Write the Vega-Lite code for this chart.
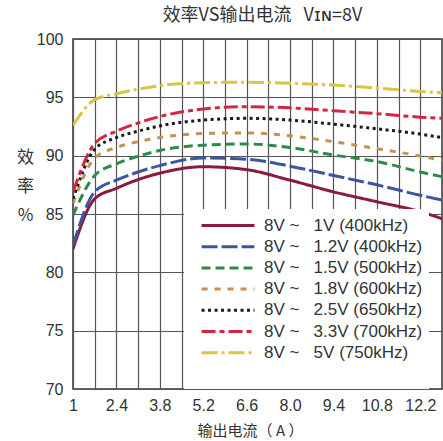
{
  "$schema": "https://vega.github.io/schema/vega-lite/v6.json",
  "width": 369,
  "height": 350,
  "autosize": "none",
  "padding": {"left": 73, "top": 39, "right": 1, "bottom": 52},
  "background": "white",
  "title": {
    "text": "效率VS输出电流\u00a0\u00a0\u00a0Vɪɴ=8V",
    "font": "Noto Sans CJK SC, DejaVu Sans",
    "fontSize": 18,
    "fontWeight": "normal",
    "color": "#333",
    "anchor": "middle",
    "frame": "group",
    "baseline": "middle",
    "offset": -3,
    "dx": 5
  },
  "config": {
    "view": {"stroke": "#333", "strokeWidth": 1.5},
    "axis": {
      "gridColor": "#555",
      "gridWidth": 1.2,
      "gridOpacity": 1,
      "domain": false,
      "ticks": false,
      "labelFont": "Liberation Sans",
      "labelFontSize": 16,
      "labelColor": "#333",
      "titleFont": "Noto Sans CJK SC",
      "titleFontWeight": "normal",
      "titleColor": "#333"
    }
  },
  "data": {
    "values": [
      {"s": "8V ~\u00a0\u00a0\u00a01V (400kHz)", "x": 1, "y": 82.0},
      {"s": "8V ~\u00a0\u00a0\u00a01V (400kHz)", "x": 1.7, "y": 86.3},
      {"s": "8V ~\u00a0\u00a0\u00a01V (400kHz)", "x": 2.4, "y": 87.2},
      {"s": "8V ~\u00a0\u00a0\u00a01V (400kHz)", "x": 3.1, "y": 87.95},
      {"s": "8V ~\u00a0\u00a0\u00a01V (400kHz)", "x": 3.8, "y": 88.5},
      {"s": "8V ~\u00a0\u00a0\u00a01V (400kHz)", "x": 5.2, "y": 89.05},
      {"s": "8V ~\u00a0\u00a0\u00a01V (400kHz)", "x": 6.6, "y": 88.8},
      {"s": "8V ~\u00a0\u00a0\u00a01V (400kHz)", "x": 8.0, "y": 87.9},
      {"s": "8V ~\u00a0\u00a0\u00a01V (400kHz)", "x": 9.4, "y": 86.9},
      {"s": "8V ~\u00a0\u00a0\u00a01V (400kHz)", "x": 10.8, "y": 86.05},
      {"s": "8V ~\u00a0\u00a0\u00a01V (400kHz)", "x": 12.2, "y": 85.2},
      {"s": "8V ~\u00a0\u00a0\u00a01V (400kHz)", "x": 12.9, "y": 84.6},

      {"s": "8V ~\u00a0\u00a0\u00a01.2V (400kHz)", "x": 1, "y": 82.3},
      {"s": "8V ~\u00a0\u00a0\u00a01.2V (400kHz)", "x": 1.7, "y": 86.9},
      {"s": "8V ~\u00a0\u00a0\u00a01.2V (400kHz)", "x": 2.4, "y": 87.9},
      {"s": "8V ~\u00a0\u00a0\u00a01.2V (400kHz)", "x": 3.1, "y": 88.6},
      {"s": "8V ~\u00a0\u00a0\u00a01.2V (400kHz)", "x": 3.8, "y": 89.15},
      {"s": "8V ~\u00a0\u00a0\u00a01.2V (400kHz)", "x": 5.2, "y": 89.8},
      {"s": "8V ~\u00a0\u00a0\u00a01.2V (400kHz)", "x": 6.6, "y": 89.7},
      {"s": "8V ~\u00a0\u00a0\u00a01.2V (400kHz)", "x": 8.0, "y": 89.1},
      {"s": "8V ~\u00a0\u00a0\u00a01.2V (400kHz)", "x": 9.4, "y": 88.3},
      {"s": "8V ~\u00a0\u00a0\u00a01.2V (400kHz)", "x": 10.8, "y": 87.5},
      {"s": "8V ~\u00a0\u00a0\u00a01.2V (400kHz)", "x": 12.2, "y": 86.6},
      {"s": "8V ~\u00a0\u00a0\u00a01.2V (400kHz)", "x": 12.9, "y": 86.2},

      {"s": "8V ~\u00a0\u00a0\u00a01.5V (500kHz)", "x": 1, "y": 84.9},
      {"s": "8V ~\u00a0\u00a0\u00a01.5V (500kHz)", "x": 1.7, "y": 88.3},
      {"s": "8V ~\u00a0\u00a0\u00a01.5V (500kHz)", "x": 2.4, "y": 89.3},
      {"s": "8V ~\u00a0\u00a0\u00a01.5V (500kHz)", "x": 3.1, "y": 89.95},
      {"s": "8V ~\u00a0\u00a0\u00a01.5V (500kHz)", "x": 3.8, "y": 90.45},
      {"s": "8V ~\u00a0\u00a0\u00a01.5V (500kHz)", "x": 5.2, "y": 90.9},
      {"s": "8V ~\u00a0\u00a0\u00a01.5V (500kHz)", "x": 6.6, "y": 91.0},
      {"s": "8V ~\u00a0\u00a0\u00a01.5V (500kHz)", "x": 8.0, "y": 90.7},
      {"s": "8V ~\u00a0\u00a0\u00a01.5V (500kHz)", "x": 9.4, "y": 90.05},
      {"s": "8V ~\u00a0\u00a0\u00a01.5V (500kHz)", "x": 10.8, "y": 89.5},
      {"s": "8V ~\u00a0\u00a0\u00a01.5V (500kHz)", "x": 12.2, "y": 88.6},
      {"s": "8V ~\u00a0\u00a0\u00a01.5V (500kHz)", "x": 12.9, "y": 88.2},

      {"s": "8V ~\u00a0\u00a0\u00a01.8V (600kHz)", "x": 1, "y": 85.9},
      {"s": "8V ~\u00a0\u00a0\u00a01.8V (600kHz)", "x": 1.7, "y": 89.8},
      {"s": "8V ~\u00a0\u00a0\u00a01.8V (600kHz)", "x": 2.4, "y": 90.7},
      {"s": "8V ~\u00a0\u00a0\u00a01.8V (600kHz)", "x": 3.1, "y": 91.2},
      {"s": "8V ~\u00a0\u00a0\u00a01.8V (600kHz)", "x": 3.8, "y": 91.55},
      {"s": "8V ~\u00a0\u00a0\u00a01.8V (600kHz)", "x": 5.2, "y": 91.9},
      {"s": "8V ~\u00a0\u00a0\u00a01.8V (600kHz)", "x": 6.6, "y": 91.95},
      {"s": "8V ~\u00a0\u00a0\u00a01.8V (600kHz)", "x": 8.0, "y": 91.7},
      {"s": "8V ~\u00a0\u00a0\u00a01.8V (600kHz)", "x": 9.4, "y": 91.2},
      {"s": "8V ~\u00a0\u00a0\u00a01.8V (600kHz)", "x": 10.8, "y": 90.6},
      {"s": "8V ~\u00a0\u00a0\u00a01.8V (600kHz)", "x": 12.2, "y": 89.97},
      {"s": "8V ~\u00a0\u00a0\u00a01.8V (600kHz)", "x": 12.9, "y": 89.6},

      {"s": "8V ~\u00a0\u00a0\u00a02.5V (650kHz)", "x": 1, "y": 86.3},
      {"s": "8V ~\u00a0\u00a0\u00a02.5V (650kHz)", "x": 1.7, "y": 90.55},
      {"s": "8V ~\u00a0\u00a0\u00a02.5V (650kHz)", "x": 2.4, "y": 91.55},
      {"s": "8V ~\u00a0\u00a0\u00a02.5V (650kHz)", "x": 3.1, "y": 92.1},
      {"s": "8V ~\u00a0\u00a0\u00a02.5V (650kHz)", "x": 3.8, "y": 92.55},
      {"s": "8V ~\u00a0\u00a0\u00a02.5V (650kHz)", "x": 5.2, "y": 93.05},
      {"s": "8V ~\u00a0\u00a0\u00a02.5V (650kHz)", "x": 6.6, "y": 93.2},
      {"s": "8V ~\u00a0\u00a0\u00a02.5V (650kHz)", "x": 8.0, "y": 93.05},
      {"s": "8V ~\u00a0\u00a0\u00a02.5V (650kHz)", "x": 9.4, "y": 92.7},
      {"s": "8V ~\u00a0\u00a0\u00a02.5V (650kHz)", "x": 10.8, "y": 92.3},
      {"s": "8V ~\u00a0\u00a0\u00a02.5V (650kHz)", "x": 12.2, "y": 91.85},
      {"s": "8V ~\u00a0\u00a0\u00a02.5V (650kHz)", "x": 12.9, "y": 91.55},

      {"s": "8V ~\u00a0\u00a0\u00a03.3V (700kHz)", "x": 1, "y": 86.9},
      {"s": "8V ~\u00a0\u00a0\u00a03.3V (700kHz)", "x": 1.7, "y": 91.05},
      {"s": "8V ~\u00a0\u00a0\u00a03.3V (700kHz)", "x": 2.4, "y": 92.1},
      {"s": "8V ~\u00a0\u00a0\u00a03.3V (700kHz)", "x": 3.1, "y": 92.8},
      {"s": "8V ~\u00a0\u00a0\u00a03.3V (700kHz)", "x": 3.8, "y": 93.35},
      {"s": "8V ~\u00a0\u00a0\u00a03.3V (700kHz)", "x": 5.2, "y": 94.0},
      {"s": "8V ~\u00a0\u00a0\u00a03.3V (700kHz)", "x": 6.6, "y": 94.2},
      {"s": "8V ~\u00a0\u00a0\u00a03.3V (700kHz)", "x": 8.0, "y": 94.1},
      {"s": "8V ~\u00a0\u00a0\u00a03.3V (700kHz)", "x": 9.4, "y": 93.85},
      {"s": "8V ~\u00a0\u00a0\u00a03.3V (700kHz)", "x": 10.8, "y": 93.6},
      {"s": "8V ~\u00a0\u00a0\u00a03.3V (700kHz)", "x": 12.2, "y": 93.3},
      {"s": "8V ~\u00a0\u00a0\u00a03.3V (700kHz)", "x": 12.9, "y": 93.2},

      {"s": "8V ~\u00a0\u00a0\u00a05V (750kHz)", "x": 1, "y": 92.6},
      {"s": "8V ~\u00a0\u00a0\u00a05V (750kHz)", "x": 1.7, "y": 94.8},
      {"s": "8V ~\u00a0\u00a0\u00a05V (750kHz)", "x": 2.4, "y": 95.3},
      {"s": "8V ~\u00a0\u00a0\u00a05V (750kHz)", "x": 3.1, "y": 95.7},
      {"s": "8V ~\u00a0\u00a0\u00a05V (750kHz)", "x": 3.8, "y": 96.0},
      {"s": "8V ~\u00a0\u00a0\u00a05V (750kHz)", "x": 5.2, "y": 96.25},
      {"s": "8V ~\u00a0\u00a0\u00a05V (750kHz)", "x": 6.6, "y": 96.3},
      {"s": "8V ~\u00a0\u00a0\u00a05V (750kHz)", "x": 8.0, "y": 96.2},
      {"s": "8V ~\u00a0\u00a0\u00a05V (750kHz)", "x": 9.4, "y": 96.05},
      {"s": "8V ~\u00a0\u00a0\u00a05V (750kHz)", "x": 10.8, "y": 95.8},
      {"s": "8V ~\u00a0\u00a0\u00a05V (750kHz)", "x": 12.2, "y": 95.5},
      {"s": "8V ~\u00a0\u00a0\u00a05V (750kHz)", "x": 12.9, "y": 95.4}
    ]
  },
  "mark": {"type": "line", "strokeWidth": 3, "interpolate": "monotone", "clip": true},
  "encoding": {
    "x": {
      "field": "x",
      "type": "quantitative",
      "scale": {"domain": [1, 12.9], "nice": false, "zero": false},
      "axis": {
        "values": [1, 1.7, 2.4, 3.1, 3.8, 4.5, 5.2, 5.9, 6.6, 7.3, 8.0, 8.7, 9.4, 10.1, 10.8, 11.5, 12.2],
        "labelExpr": "round((datum.value-1)/0.7)%2==1 ? '' : (datum.value==1 ? '1' : format(datum.value,'.1f'))",
        "labelPadding": 8,
        "labelFlush": false,
        "labelOverlap": false,
        "title": "输出电流（\u00a0A\u00a0）",
        "titleFontSize": 15,
        "titleX": 177,
        "titleY": 41,
        "titleBaseline": "middle"
      }
    },
    "y": {
      "field": "y",
      "type": "quantitative",
      "scale": {"domain": [70, 100], "nice": false, "zero": false},
      "axis": {
        "values": [70, 75, 80, 85, 90, 95, 100],
        "labelPadding": 10,
        "labelFlush": false,
        "title": ["效", "率", "%"],
        "titleFontSize": 17,
        "titleAngle": 0,
        "titleAlign": "center",
        "titleBaseline": "top",
        "titleLineHeight": 29,
        "titleX": -48,
        "titleY": 110
      }
    },
    "color": {
      "field": "s",
      "type": "nominal",
      "scale": {
        "domain": ["8V ~\u00a0\u00a0\u00a01V (400kHz)", "8V ~\u00a0\u00a0\u00a01.2V (400kHz)", "8V ~\u00a0\u00a0\u00a01.5V (500kHz)", "8V ~\u00a0\u00a0\u00a01.8V (600kHz)", "8V ~\u00a0\u00a0\u00a02.5V (650kHz)", "8V ~\u00a0\u00a0\u00a03.3V (700kHz)", "8V ~\u00a0\u00a0\u00a05V (750kHz)"],
        "range": ["#8b1a3c", "#3a55a4", "#2c8a4a", "#c49256", "#1a1a1a", "#d6263f", "#d9c34a"]
      },
      "legend": {
        "title": "\u00a0",
        "titleOrient": "bottom",
        "titleFontSize": 14,
        "titlePadding": 6,
        "orient": "none",
        "legendX": 111,
        "legendY": 170,
        "fillColor": "white",
        "padding": 6,
        "symbolType": "stroke",
        "symbolSize": 2800,
        "symbolStrokeWidth": 3,
        "symbolOffset": 10,
        "clipHeight": 21,
        "labelOffset": 8,
        "labelFont": "Liberation Sans",
        "labelFontSize": 17,
        "labelColor": "#333",
        "labelLimit": 300,
        "rowPadding": 0.2
      }
    },
    "strokeDash": {
      "field": "s",
      "type": "nominal",
      "scale": {
        "domain": ["8V ~\u00a0\u00a0\u00a01V (400kHz)", "8V ~\u00a0\u00a0\u00a01.2V (400kHz)", "8V ~\u00a0\u00a0\u00a01.5V (500kHz)", "8V ~\u00a0\u00a0\u00a01.8V (600kHz)", "8V ~\u00a0\u00a0\u00a02.5V (650kHz)", "8V ~\u00a0\u00a0\u00a03.3V (700kHz)", "8V ~\u00a0\u00a0\u00a05V (750kHz)"],
        "range": [[1, 0], [16, 4], [9, 5], [6, 7], [3, 3.5], [14, 4, 5, 4], [16, 4, 3, 4]]
      },
      "legend": {
        "title": "\u00a0",
        "titleOrient": "bottom",
        "titleFontSize": 14,
        "titlePadding": 6,
        "orient": "none",
        "legendX": 111,
        "legendY": 170,
        "fillColor": "white",
        "padding": 6,
        "symbolType": "stroke",
        "symbolSize": 2800,
        "symbolStrokeWidth": 3,
        "symbolOffset": 10,
        "clipHeight": 21,
        "labelOffset": 8,
        "labelFont": "Liberation Sans",
        "labelFontSize": 17,
        "labelColor": "#333",
        "labelLimit": 300,
        "rowPadding": 0.2
      }
    }
  }
}
